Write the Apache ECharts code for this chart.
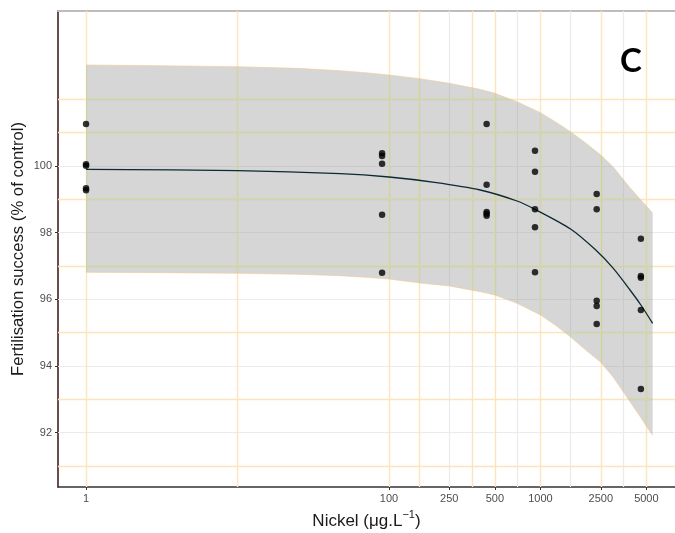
<!DOCTYPE html>
<html>
<head>
<meta charset="utf-8">
<script src="https://cdn.jsdelivr.net/npm/echarts@6/dist/echarts.min.js"></script>
<style>
html,body{margin:0;padding:0;background:#fff;}
#chart{width:675px;height:533px;}
</style>
</head>
<body>
<div id="chart"></div>
<script>
// ---- data ----
const doses = [1, 90, 441, 920, 2350, 4600];
const responses = [
  [101.26, 100.05, 100.01, 99.33, 99.27],
  [100.38, 100.30, 100.07, 98.54, 96.80],
  [101.26, 99.44, 98.62, 98.57, 98.51],
  [100.46, 99.83, 98.70, 98.16, 96.81],
  [99.16, 98.70, 95.96, 95.80, 95.26],
  [97.82, 96.70, 96.65, 95.68, 93.31]
];
const fitX = [1, 10, 47.5, 100, 200, 400, 700, 920, 1580, 2290, 3025, 3900, 4600, 5500];
const fitY = [99.90, 99.86, 99.77, 99.67, 99.51, 99.28, 98.95, 98.70, 98.11, 97.50, 96.93, 96.28, 95.83, 95.28];
const bandX = [1, 3, 10, 25, 47.5, 70, 100, 160, 250, 400, 500, 700, 1000, 1250, 1580, 2000, 2500, 3025, 3500, 3900, 4600, 5000, 5500];
const bandUpper = [103.03, 103.01, 102.98, 102.93, 102.86, 102.80, 102.73, 102.62, 102.48, 102.30, 102.18, 101.93, 101.60, 101.33, 101.03, 100.68, 100.33, 99.97, 99.61, 99.35, 98.98, 98.80, 98.59];
const bandLower = [96.81, 96.80, 96.78, 96.75, 96.71, 96.66, 96.61, 96.49, 96.40, 96.23, 96.13, 95.88, 95.53, 95.23, 94.87, 94.47, 94.11, 93.66, 93.24, 92.93, 92.45, 92.19, 91.92];
const xTicks = [1, 100, 250, 500, 1000, 2500, 5000];
const yTicks = [92, 94, 96, 98, 100];
const vGridOrange = [1, 10, 100, 158, 354, 500, 1000, 2500, 5000];
const vGridGray = [250, 707, 1581, 3536];
const hGridGray = [92, 94, 96, 98, 100];
const hGridOrange = [91, 93, 95, 97, 99, 101, 102];

// ---- build ----
const ORANGE = '#fde4bb', GRAY = '#ebebeb';
const scatterData = [];
doses.forEach((d, i) => responses[i].forEach(v => scatterData.push([d, v])));
const fitData = fitX.map((x, i) => [x, fitY[i]]);

const gridLines = []
  .concat(hGridGray.map(v => ({yAxis: v, lineStyle: {color: GRAY, width: 1.2}})))
  .concat(vGridGray.map(v => ({xAxis: v, lineStyle: {color: GRAY, width: 1.2}})))
  .concat(hGridOrange.map(v => ({yAxis: v, lineStyle: {color: ORANGE, width: 1.4}})))
  .concat(vGridOrange.map(v => ({xAxis: v, lineStyle: {color: ORANGE, width: 1.4}})));

const font = '"Liberation Sans", Arial, sans-serif';
const chart = echarts.init(document.getElementById('chart'), null, {renderer: 'canvas'});
chart.setOption({
  animation: false,
  backgroundColor: '#ffffff',
  grid: {left: 58, right: 0, top: 11, bottom: 46, containLabel: false, outerBoundsMode: 'none'},
  xAxis: [{
    type: 'log', logBase: 10, min: 0.653, max: 7727,
    name: '{n|Nickel (μg.L}{sup|−1}{n|)}', nameLocation: 'middle', nameGap: 22, nameMoveOverlap: false,
    nameTextStyle: {fontFamily: font, fontSize: 17, color: '#1a1a1a',
      rich: {
        n: {fontFamily: font, fontSize: 17, color: '#1a1a1a', verticalAlign: 'bottom', lineHeight: 20},
        sup: {fontFamily: font, fontSize: 11, color: '#1a1a1a', verticalAlign: 'bottom', padding: [0, 0, 10, 0]}
      }},
    axisLine: {show: true, onZero: false, lineStyle: {color: '#333333', width: 1.5}},
    axisTick: {show: true, length: 3, customValues: xTicks, lineStyle: {color: '#333333'}},
    axisLabel: {customValues: xTicks, margin: 6, fontFamily: font, fontSize: 11, color: '#4d4d4d',
      formatter: v => String(Math.round(v))},
    splitLine: {show: false}, minorTick: {show: false}, minorSplitLine: {show: false}
  }, {
    type: 'value', position: 'top', min: 0, max: 1,
    axisLine: {show: true, lineStyle: {color: '#bdbdbd', width: 2}},
    axisTick: {show: false}, axisLabel: {show: false}, splitLine: {show: false}
  }],
  yAxis: {
    type: 'value', min: 90.37, max: 104.65,
    name: 'Fertilisation success (% of control)', nameLocation: 'middle', nameGap: 31, nameMoveOverlap: false,
    nameTextStyle: {fontFamily: font, fontSize: 16.7, color: '#1a1a1a'},
    axisLine: {show: true, lineStyle: {color: '#3d1010', width: 1.5}},
    axisTick: {show: true, length: 3, customValues: yTicks, lineStyle: {color: '#333333'}},
    axisLabel: {customValues: yTicks, margin: 6, fontFamily: font, fontSize: 11, color: '#4d4d4d'},
    splitLine: {show: false}
  },
  graphic: [{
    type: 'text', left: 620, top: 45, z: 100,
    style: {text: 'C', font: 'bold 33px Lato, "Open Sans", sans-serif', fill: '#000'}
  }],
  series: [
    {
      type: 'scatter', data: [], z: 1, silent: true,
      markLine: {silent: true, z: 1, symbol: ['none', 'none'], label: {show: false},
        lineStyle: {type: 'solid'}, emphasis: {disabled: true}, animation: false, data: gridLines}
    },
    {
      type: 'custom', z: 2, silent: true, data: [[1, 100]],
      renderItem: function (params, api) {
        const up = bandX.map((x, i) => api.coord([x, bandUpper[i]]));
        const lo = bandX.map((x, i) => api.coord([x, bandLower[i]]));
        const poly = up.concat(lo.slice().reverse());
        const cs = params.coordSys;
        const inner = [];
        vGridOrange.forEach(v => {
          const px = api.coord([v, 100])[0];
          inner.push({type: 'line', shape: {x1: px, y1: cs.y, x2: px, y2: cs.y + cs.height},
            style: {stroke: 'rgba(205,235,150,0.45)', lineWidth: 1.4}});
        });
        hGridOrange.forEach(v => {
          const py = api.coord([1, v])[1];
          inner.push({type: 'line', shape: {x1: cs.x, y1: py, x2: cs.x + cs.width, y2: py},
            style: {stroke: 'rgba(205,235,150,0.45)', lineWidth: 1.4}});
        });
        return {type: 'group', children: [
          {type: 'polygon', shape: {points: poly}, style: {fill: 'rgba(153,153,153,0.4)'}},
          {type: 'group', children: inner, clipPath: {type: 'polygon', shape: {points: poly}}},
          {type: 'polyline', shape: {points: up}, style: {stroke: 'rgba(245,200,140,0.7)', lineWidth: 0.8, fill: null}},
          {type: 'polyline', shape: {points: lo}, style: {stroke: 'rgba(245,200,140,0.7)', lineWidth: 0.8, fill: null}}
        ]};
      }
    },
    {
      type: 'line', data: fitData, z: 3, smooth: 0.3, symbol: 'none', silent: true,
      lineStyle: {color: '#0e2a33', width: 1.3}
    },
    {
      type: 'scatter', data: scatterData, z: 4, symbolSize: 6.5, silent: true,
      itemStyle: {color: '#000000'}
    }
  ]
});
</script>
</body>
</html>
